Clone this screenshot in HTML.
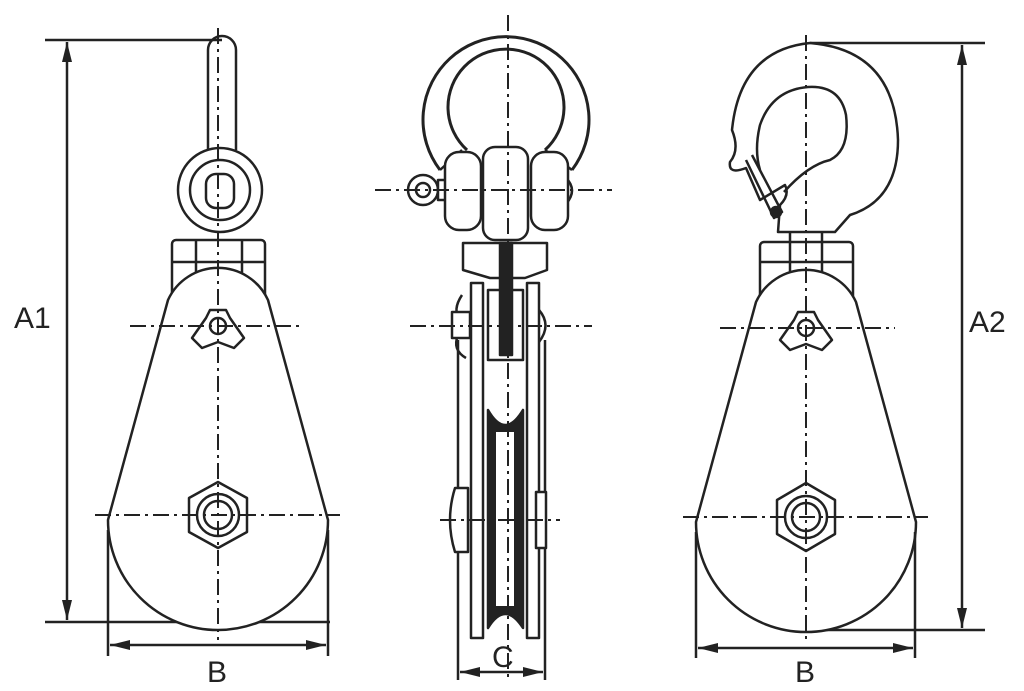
<!DOCTYPE html>
<html><head><meta charset="utf-8"><style>
html,body{margin:0;padding:0;background:#fff}
svg{display:block}
text{font-family:"Liberation Sans",sans-serif;fill:#222}
</style></head><body>
<svg width="1024" height="691" viewBox="0 0 1024 691" xmlns="http://www.w3.org/2000/svg">
<defs>
<marker id="ar2" viewBox="0 0 20 10" refX="20" refY="5" markerWidth="20" markerHeight="10" orient="auto-start-reverse" markerUnits="userSpaceOnUse"><path d="M0,0 L20,5 L0,10 z" fill="#222"/></marker>
</defs>
<g stroke="#222" stroke-width="2.5" fill="none" stroke-linejoin="round">
<!-- LEFT -->
<line x1="45" y1="40" x2="222" y2="40"/>
<line x1="45" y1="622" x2="330" y2="622"/>
<line x1="67" y1="42" x2="67" y2="620" marker-start="url(#ar2)" marker-end="url(#ar2)"/>
<path d="M208,150 V50 A14,14 0 0 1 236,50 V150"/>
<circle cx="220" cy="190" r="42"/>
<circle cx="220" cy="190" r="30"/>
<rect x="206" y="174" width="28" height="34" rx="10"/>
<rect x="172" y="240" width="93" height="60" rx="4"/>
<line x1="172" y1="262" x2="265" y2="262"/>
<line x1="196" y1="240" x2="196" y2="300"/><line x1="242" y1="240" x2="242" y2="300"/>
<path d="M168,300 A55,55 0 0 1 268,300 L328,520 A110,110 0 1 1 108,520 Z" fill="#fff"/>
<polygon points="218,482 247,498 247,532 218,548 189,532 189,498" fill="#fff"/>
<circle cx="218" cy="515" r="21"/>
<circle cx="218" cy="515" r="14"/>
<path d="M210,310 L226,310 L230,318 L244,338 L234,348 L218,342 L202,348 L192,338 L206,318 Z" fill="#fff"/>
<circle cx="218" cy="326" r="8"/>
<line x1="108" y1="530" x2="108" y2="656"/><line x1="328" y1="530" x2="328" y2="656"/>
<line x1="110" y1="645" x2="326" y2="645" marker-start="url(#ar2)" marker-end="url(#ar2)"/>
<!-- MIDDLE -->
<path d="M440,170 A83,83 0 1 1 572,170" stroke-width="3"/>
<path d="M467,150 A58,58 0 1 1 545,150" stroke-width="3"/>
<path d="M440,170 L462,150 M572,170 L545,150"/>
<circle cx="423" cy="190" r="15" fill="#fff"/><circle cx="423" cy="190" r="7"/>
<rect x="438" y="180" width="10" height="20" fill="#fff"/>
<path d="M566,178 Q578,190 566,204" />
<rect x="445" y="152" width="36" height="78" rx="14" fill="#fff"/>
<rect x="531" y="152" width="37" height="78" rx="14" fill="#fff"/>
<rect x="483" y="147" width="45" height="93" rx="12" fill="#fff"/>
<path d="M463,243 H547 V270 L525,278 H490 L463,270 Z" fill="#fff"/>
<rect x="471" y="283" width="12" height="355" fill="#fff"/>
<rect x="527" y="283" width="12" height="355" fill="#fff"/>
<line x1="458" y1="340" x2="458" y2="680"/><line x1="545" y1="340" x2="545" y2="680"/>
<rect x="488" y="290" width="35" height="70"/>
<path d="M488,410 Q505,440 523,410 V628 Q505,600 488,628 Z" fill="#222"/>
<rect x="496" y="432" width="18" height="174" fill="#fff" stroke="none"/>
<rect x="500" y="243" width="12" height="112" fill="#222"/>
<path d="M462,295 Q452,310 460,320 M458,335 Q452,350 466,358"/>
<rect x="452" y="312" width="18" height="26" fill="#fff"/>
<path d="M539,310 Q552,325 539,342"/>
<path d="M468,488 H455 Q445,520 455,552 H468 Z" fill="#fff"/>
<rect x="536" y="492" width="10" height="56" fill="#fff"/>
<line x1="460" y1="672" x2="543" y2="672" marker-start="url(#ar2)" marker-end="url(#ar2)"/>
<!-- RIGHT -->
<line x1="810" y1="43" x2="985" y2="43"/>
<line x1="800" y1="630" x2="985" y2="630"/>
<line x1="962" y1="45" x2="962" y2="628" marker-start="url(#ar2)" marker-end="url(#ar2)"/>
<path d="M778,232 L780,205 Q790,195 785,185 L760,200 L746,168 Q728,175 730,162 Q740,150 732,130 Q740,50 810,43 Q895,50 898,140 Q898,200 850,215 L835,232 Z" fill="#fff"/>
<path d="M784,192 Q808,165 830,160 Q850,150 846,115 Q840,85 808,87 Q772,90 760,125 Q754,150 760,170"/>
<path d="M746,160 L774,218 L782,212 L752,155"/>
<circle cx="776" cy="212" r="5" fill="#222"/>
<rect x="760" y="242" width="93" height="60" rx="4"/>
<line x1="760" y1="262" x2="853" y2="262"/>
<line x1="790" y1="232" x2="790" y2="282"/><line x1="822" y1="232" x2="822" y2="282"/>
<path d="M756,302 A55,55 0 0 1 856,302 L916,522 A110,110 0 1 1 696,522 Z" fill="#fff"/>
<polygon points="806,483 835,500 835,534 806,551 777,534 777,500" fill="#fff"/>
<circle cx="806" cy="517" r="21"/>
<circle cx="806" cy="517" r="14"/>
<path d="M798,312 L814,312 L818,320 L832,340 L822,350 L806,344 L790,350 L780,340 L794,320 Z" fill="#fff"/>
<circle cx="806" cy="328" r="8"/>
<line x1="696" y1="532" x2="696" y2="658"/><line x1="915" y1="532" x2="915" y2="658"/>
<line x1="698" y1="648" x2="913" y2="648" marker-start="url(#ar2)" marker-end="url(#ar2)"/>
</g>
<g stroke="#222" stroke-width="2" stroke-dasharray="16,5,3,5" fill="none">
<line x1="218" y1="28" x2="218" y2="640"/>
<line x1="130" y1="326" x2="300" y2="326"/>
<line x1="95" y1="515" x2="340" y2="515"/>
<line x1="508" y1="15" x2="508" y2="682"/>
<line x1="375" y1="190" x2="612" y2="190"/>
<line x1="410" y1="326" x2="592" y2="326"/>
<line x1="440" y1="520" x2="560" y2="520"/>
<line x1="806" y1="35" x2="806" y2="640"/>
<line x1="720" y1="328" x2="895" y2="328"/>
<line x1="683" y1="517" x2="928" y2="517"/>
</g>
<text x="14" y="328" font-size="30">A1</text>
<text x="207" y="682" font-size="30">B</text>
<text x="492" y="667" font-size="30">C</text>
<text x="969" y="332" font-size="30">A2</text>
<text x="795" y="682" font-size="30">B</text>
</svg>
</body></html>
